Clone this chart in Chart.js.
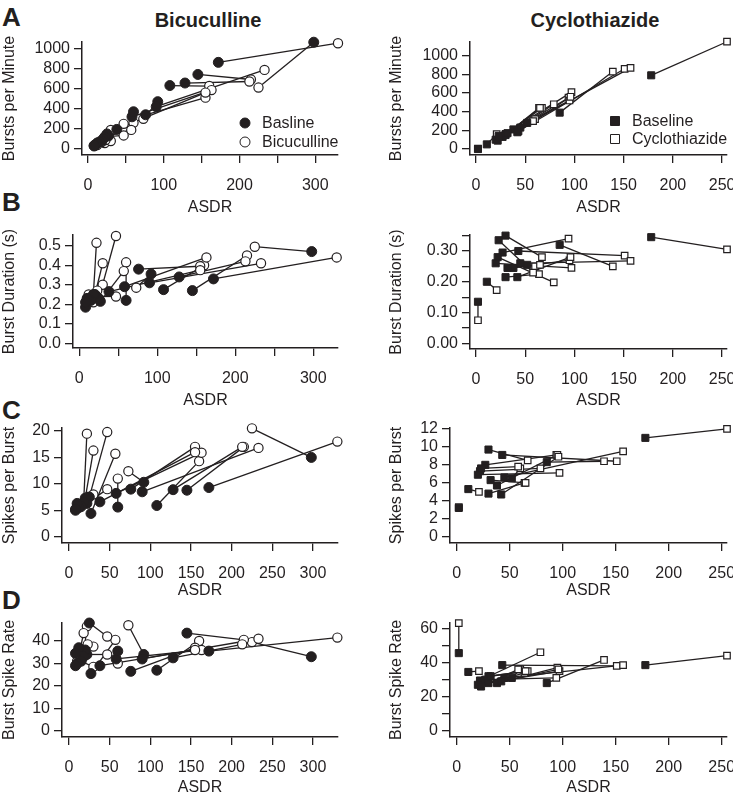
<!DOCTYPE html>
<html>
<head>
<meta charset="utf-8">
<script src="https://cdn.jsdelivr.net/npm/chart.js@4.4.1/dist/chart.umd.min.js"></script>
<style>
  body { margin: 0; background: #fff; width: 733px; height: 799px; position: relative; overflow: hidden;
         font-family: "Liberation Sans", Arial, sans-serif; color: #231f20; }
  canvas { position: absolute; }
  .lbl { position: absolute; font-weight: bold; line-height: 1; white-space: nowrap; }
</style>
</head>
<body>
<div class="lbl" style="left:2px;top:4px;font-size:26px">A</div>
<div class="lbl" style="left:2px;top:189px;font-size:26px">B</div>
<div class="lbl" style="left:2px;top:397px;font-size:26px">C</div>
<div class="lbl" style="left:2px;top:587px;font-size:26px">D</div>
<div class="lbl" style="left:108px;width:200px;text-align:center;top:10px;font-size:20px">Bicuculline</div>
<div class="lbl" style="left:495px;width:200px;text-align:center;top:10px;font-size:20px">Cyclothiazide</div>
<script>
// Bicuculline experiments: baseline vs drug, one entry per culture
const bicAsdrBase = [298, 172, 145, 128, 108, 92, 90, 76, 58, 60, 38, 27, 25, 22, 20, 18, 15, 12, 10, 8, 8];
const bicAsdrDrug = [225, 330, 215, 213, 160, 73, 233, 155, 163, 60, 155, 57, 47, 47, 30, 22, 30, 23, 18, 12, 10];
const bicBpmBase  = [1060, 860, 740, 655, 630, 470, 420, 340, 320, 370, 195, 130, 150, 120, 100, 80, 70, 60, 40, 30, 35];
const bicBpmDrug  = [610, 1050, 690, 670, 625, 300, 785, 510, 585, 260, 560, 190, 250, 135, 190, 60, 80, 90, 70, 40, 45];
const bicDurBase  = [0.47, 0.33, 0.27, 0.34, 0.275, 0.355, 0.31, 0.38, 0.29, 0.22, 0.265, 0.215, 0.23, 0.24, 0.25, 0.25, 0.22, 0.22, 0.23, 0.185, 0.21];
const bicDurDrug  = [0.495, 0.44, 0.45, 0.42, 0.40, 0.285, 0.41, 0.395, 0.44, 0.415, 0.375, 0.37, 0.55, 0.24, 0.41, 0.515, 0.30, 0.27, 0.21, 0.25, 0.23];
const bicSpbBase  = [15, 9.3, 8.8, 8.9, 5.9, 10.3, 8.5, 9, 8.2, 5.6, 6.6, 4.4, 7.5, 6.3, 7.3, 6.5, 5.7, 5.5, 6.3, 5, 5.2];
const bicSpbDrug  = [20.5, 18, 17, 17, 14.3, 12.4, 16.8, 17, 15.9, 11, 16, 15.7, 19.8, 9, 16.3, 19.5, 8, 7.5, 6.5, 6, 5.8];
const bicRateBase = [33, 35.5, 43.5, 32.5, 27, 34, 32, 26.5, 32, 35.5, 29, 25.5, 48, 34, 36, 33, 31, 37, 30, 29, 34.5];
const bicRateDrug = [39.5, 41.5, 40.5, 38.5, 40, 47, 41, 37, 36, 30, 36, 40.5, 42, 34, 37.5, 46.5, 28.5, 38.5, 43.5, 35, 31];

// Cyclothiazide experiments
const ctzAsdrBase = [2, 11, 178, 85, 30, 43, 27, 22, 30, 45, 20, 38, 42, 52, 23, 32];
const ctzAsdrDrug = [2, 21, 255, 139, 67, 151, 94, 79, 64, 157, 97, 95, 96, 60, 58, 65];
const ctzBpmBase  = [0, 50, 790, 390, 160, 190, 130, 90, 150, 230, 100, 210, 180, 280, 140, 170];
const ctzBpmDrug  = [5, 160, 1150, 830, 440, 860, 550, 480, 440, 870, 610, 520, 560, 320, 300, 440];
const ctzDurBase  = [0.135, 0.20, 0.345, 0.32, 0.35, 0.30, 0.295, 0.28, 0.215, 0.26, 0.26, 0.245, 0.215, 0.255, 0.335, 0.245];
const ctzDurDrug  = [0.075, 0.173, 0.305, 0.25, 0.28, 0.285, 0.34, 0.198, 0.225, 0.268, 0.245, 0.27, 0.28, 0.25, 0.23, 0.255];
const ctzSpbBase  = [3.2, 5.3, 11, 8.3, 9.7, 9.1, 8.0, 7.3, 4.8, 6.6, 6.9, 5.7, 4.7, 6.5, 7.6, 6.3];
const ctzSpbDrug  = [3.3, 5.0, 12, 8.4, 8.5, 8.4, 9.1, 7.6, 6.0, 9.5, 7.1, 9.1, 8.9, 7.6, 7.8, 6.0];
const ctzRateBase = [45.5, 34.5, 38.5, 28, 32, 38.5, 30, 29.5, 28, 31, 27, 28, 29, 31, 26, 32];
const ctzRateDrug = [63, 35, 44, 41.5, 35, 38, 31, 46, 34, 38.5, 35, 37, 36, 36, 36, 35];

// tick values and which of them carry a label
const bicXTicks = [0, 50, 100, 150, 200, 250, 300];
const bicXLabelsAB = [0, 100, 200, 300];
const ctzXTicks = [0, 50, 100, 150, 200, 250];
const bpmTicks = [0, 200, 400, 600, 800, 1000];
const bicDurTicks = [0, 0.1, 0.2, 0.3, 0.4, 0.5];
const ctzDurTicks = [0, 0.05, 0.1, 0.15, 0.2, 0.25, 0.3, 0.35];
const ctzDurLabels = [0, 0.1, 0.2, 0.3];
const bicSpbTicks = [0, 5, 10, 15, 20];
const ctzSpbTicks = [0, 2, 4, 6, 8, 10, 12];
const bicRateTicks = [0, 10, 20, 30, 40];
const ctzRateTicks = [0, 10, 20, 30, 40, 50, 60];
const ctzRateLabels = [0, 20, 40, 60];

const ink = '#231f20';
Chart.defaults.font.family = '"Liberation Sans", Arial, sans-serif';
Chart.defaults.font.size = 16;
Chart.defaults.color = ink;

function pairs(xs, ys) {
  return xs.map((x, i) => ({ x, y: ys[i] }));
}

const legendPlugin = {
  id: 'pairLegend',
  afterDraw(chart, args, opts) {
    if (!opts.items || !opts.items.length) return;
    const ctx = chart.ctx;
    ctx.save();
    ctx.font = '16px "Liberation Sans", Arial, sans-serif';
    ctx.textBaseline = 'middle';
    opts.items.forEach(it => {
      const mx = it.x - opts.ox, my = it.y - opts.oy;
      ctx.beginPath();
      if (opts.shape === 'circle') ctx.arc(mx, my, 5, 0, Math.PI * 2);
      else ctx.rect(mx - 4.5, my - 4.5, 9, 9);
      ctx.fillStyle = it.filled ? ink : '#fff';
      ctx.fill();
      ctx.lineWidth = 1;
      ctx.strokeStyle = ink;
      ctx.stroke();
      ctx.fillStyle = ink;
      ctx.fillText(it.text, mx + 17, my + 1);
    });
    ctx.restore();
  }
};

function axis(isX, min, max, ticks, labels, digits, title, size) {
  return {
    type: 'linear',
    min, max,
    afterBuildTicks: s => { s.ticks = ticks.map(v => ({ value: v })); },
    afterFit: s => {
      if (isX) s.height = size; else s.width = size;
      s.paddingLeft = 0; s.paddingRight = 0; s.paddingTop = 0; s.paddingBottom = 0;
    },
    ticks: {
      autoSkip: false,
      maxRotation: 0,
      padding: isX ? 13 : 4,
      color: ink,
      font: { size: 16 },
      callback: v => labels.some(l => Math.abs(l - v) < 1e-9) ? v.toFixed(digits) : ''
    },
    grid: { drawOnChartArea: false, drawTicks: true, tickLength: 8, color: ink, lineWidth: 1.3 },
    border: { display: true, color: ink, width: 1.5 },
    title: { display: true, text: title, color: ink, font: { size: 16 }, padding: 0 }
  };
}

function makePanel(p) {
  const cv = document.createElement('canvas');
  cv.width = p.cr - p.cl;
  cv.height = p.cb - p.ct;
  cv.style.left = p.cl + 'px';
  cv.style.top = p.ct + 'px';
  document.body.appendChild(cv);

  const datasets = [
    { data: pairs(p.bx, p.by), pointStyle: p.shape, pointRadius: 5, backgroundColor: ink,
      borderColor: ink, borderWidth: 1, clip: false },
    { data: pairs(p.dx, p.dy), pointStyle: p.shape, pointRadius: 4.6, backgroundColor: '#fff',
      borderColor: ink, borderWidth: 1.2, clip: false }
  ];
  p.bx.forEach((x, i) => {
    datasets.push({
      data: [{ x, y: p.by[i] }, { x: p.dx[i], y: p.dy[i] }],
      showLine: true, pointRadius: 0, borderColor: ink, borderWidth: 1.3, clip: false
    });
  });

  new Chart(cv, {
    type: 'scatter',
    data: { datasets },
    plugins: [legendPlugin],
    options: {
      responsive: false,
      animation: false,
      events: [],
      layout: { padding: { top: p.area.top - p.ct, right: p.cr - p.area.right, left: 0, bottom: 0 } },
      plugins: {
        legend: { display: false },
        tooltip: { enabled: false },
        pairLegend: { items: p.legend || [], shape: p.shape, ox: p.cl, oy: p.ct }
      },
      scales: {
        x: axis(true, p.xmin, p.xmax, p.xt, p.xl, 0, 'ASDR', p.cb - p.area.bottom),
        y: axis(false, p.ymin, p.ymax, p.yt, p.yl, p.yd, p.ytitle, p.area.left - p.cl)
      }
    }
  });
}

// row A
makePanel({ cl: 0, ct: 30, cr: 360, cb: 217, area: { left: 82, right: 338, top: 42, bottom: 155 },
  xmin: -8, xmax: 330, ymin: -59, ymax: 1062, xt: bicXTicks, xl: bicXLabelsAB, yt: bpmTicks, yl: bpmTicks, yd: 0,
  ytitle: 'Bursts per Minute', shape: 'circle',
  bx: bicAsdrBase, by: bicBpmBase, dx: bicAsdrDrug, dy: bicBpmDrug,
  legend: [{ x: 245, y: 123, text: 'Basline', filled: true }, { x: 245, y: 142, text: 'Bicuculline', filled: false }] });
makePanel({ cl: 387, ct: 30, cr: 733, cb: 217, area: { left: 470, right: 727, top: 42, bottom: 155 },
  xmin: -6.1, xmax: 255, ymin: -64, ymax: 1147, xt: ctzXTicks, xl: ctzXTicks, yt: bpmTicks, yl: bpmTicks, yd: 0,
  ytitle: 'Bursts per Minute', shape: 'rect',
  bx: ctzAsdrBase, by: ctzBpmBase, dx: ctzAsdrDrug, dy: ctzBpmDrug,
  legend: [{ x: 615, y: 121, text: 'Baseline', filled: true }, { x: 615, y: 139, text: 'Cyclothiazide', filled: false }] });

// row B
makePanel({ cl: 0, ct: 223, cr: 360, cb: 410, area: { left: 73, right: 338, top: 235, bottom: 348 },
  xmin: -8.1, xmax: 331.7, ymin: -0.024, ymax: 0.555, xt: bicXTicks, xl: bicXLabelsAB, yt: bicDurTicks, yl: bicDurTicks, yd: 1,
  ytitle: 'Burst Duration (s)', shape: 'circle',
  bx: bicAsdrBase, by: bicDurBase, dx: bicAsdrDrug, dy: bicDurDrug });
makePanel({ cl: 387, ct: 223, cr: 733, cb: 410, area: { left: 470, right: 727, top: 235, bottom: 349 },
  xmin: -6.1, xmax: 255, ymin: -0.0185, ymax: 0.352, xt: ctzXTicks, xl: ctzXTicks, yt: ctzDurTicks, yl: ctzDurLabels, yd: 2,
  ytitle: 'Burst Duration (s)', shape: 'rect',
  bx: ctzAsdrBase, by: ctzDurBase, dx: ctzAsdrDrug, dy: ctzDurDrug });

// row C
makePanel({ cl: 0, ct: 416, cr: 360, cb: 600, area: { left: 62, right: 338, top: 428, bottom: 543 },
  xmin: -8.6, xmax: 330.8, ymin: -1.19, ymax: 20.57, xt: bicXTicks, xl: bicXTicks, yt: bicSpbTicks, yl: bicSpbTicks, yd: 0,
  ytitle: 'Spikes per Burst', shape: 'circle',
  bx: bicAsdrBase, by: bicSpbBase, dx: bicAsdrDrug, dy: bicSpbDrug });
makePanel({ cl: 387, ct: 416, cr: 733, cb: 600, area: { left: 450, right: 727, top: 428, bottom: 543 },
  xmin: -6.3, xmax: 255, ymin: -0.7, ymax: 12.1, xt: ctzXTicks, xl: ctzXTicks, yt: ctzSpbTicks, yl: ctzSpbTicks, yd: 0,
  ytitle: 'Spikes per Burst', shape: 'rect',
  bx: ctzAsdrBase, by: ctzSpbBase, dx: ctzAsdrDrug, dy: ctzSpbDrug });

// row D
makePanel({ cl: 0, ct: 611, cr: 360, cb: 797, area: { left: 62, right: 338, top: 623, bottom: 737 },
  xmin: -8.6, xmax: 330.8, ymin: -2.7, ymax: 48.0, xt: bicXTicks, xl: bicXTicks, yt: bicRateTicks, yl: bicRateTicks, yd: 0,
  ytitle: 'Burst Spike Rate', shape: 'circle',
  bx: bicAsdrBase, by: bicRateBase, dx: bicAsdrDrug, dy: bicRateDrug });
makePanel({ cl: 387, ct: 611, cr: 733, cb: 797, area: { left: 450, right: 727, top: 623, bottom: 737 },
  xmin: -6.3, xmax: 255, ymin: -3.5, ymax: 63.1, xt: ctzXTicks, xl: ctzXTicks, yt: ctzRateTicks, yl: ctzRateLabels, yd: 0,
  ytitle: 'Burst Spike Rate', shape: 'rect',
  bx: ctzAsdrBase, by: ctzRateBase, dx: ctzAsdrDrug, dy: ctzRateDrug });
</script>
</body>
</html>
